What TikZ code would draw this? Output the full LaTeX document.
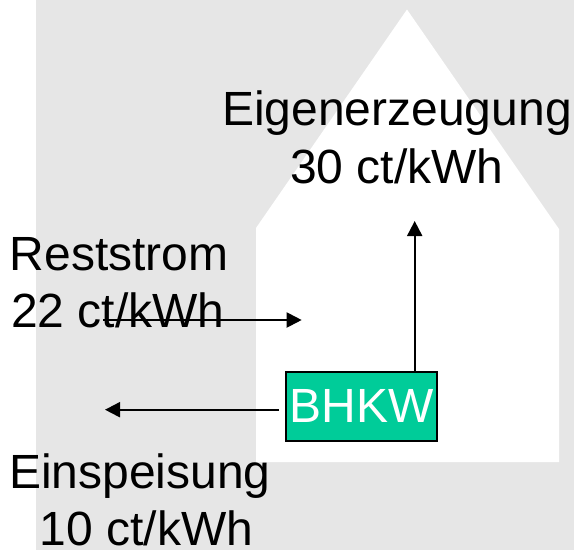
\documentclass[tikz,border=0pt]{standalone}
\usepackage{fontspec}
\setmainfont{Liberation Sans}
\usetikzlibrary{arrows.meta}
\definecolor{bggray}{RGB}{230,230,230}
\definecolor{bhkwgreen}{RGB}{0,204,153}
\tikzset{
  lbl/.style={inner sep=0pt, font=\fontsize{48}{58}\selectfont, text=black},
  flow/.style={line width=2pt, -{Triangle[length=15pt,width=15pt]}},
  unitbox/.style={draw=black, line width=2pt, fill=bhkwgreen, text=white, inner sep=0pt,
    minimum width=151.6pt, minimum height=68.7pt, font=\fontsize{48}{58}\selectfont}
}
\begin{document}
\begin{tikzpicture}[x=1pt,y=-1pt]
\useasboundingbox (0,0) rectangle (574,550);
% background
\fill[bggray] (36,0) rectangle (574,550);
% house
\fill[white] (256,462) -- (256,228) -- (407,9.5) -- (559,229) -- (559,462) -- cycle;
% labels
\node[lbl, anchor=base] (eig1) at (397,125) {Eigenerzeugung};
\node[lbl, anchor=base] (eig2) at (397,183) {30 ct/kWh};
\node[lbl, anchor=base west] (rest1) at (9.5,270) {Reststrom};
\node[lbl, anchor=base west] (rest2) at (11,327) {22 ct/kWh};
\node[lbl, anchor=base west] (ein1) at (9,488) {Einspeisung};
\node[lbl, anchor=base west] (ein2) at (39.5,545) {10 ct/kWh};
% BHKW
\node[unitbox] (BHKW) at (361.5,406.3) {BHKW};
% connector ends
\coordinate (upTip) at (414.7,221);
\coordinate (leftTip) at (105,409.7);
\coordinate (restStart) at (103,320);
\coordinate (restTip) at (301.7,320);
% arrows
\draw[flow] (BHKW.north -| upTip) -- (upTip);
\draw[flow] ([xshift=-5.7pt]BHKW.west |- leftTip) -- (leftTip);
\draw[flow] (restStart) -- (restTip);
\end{tikzpicture}
\end{document}
